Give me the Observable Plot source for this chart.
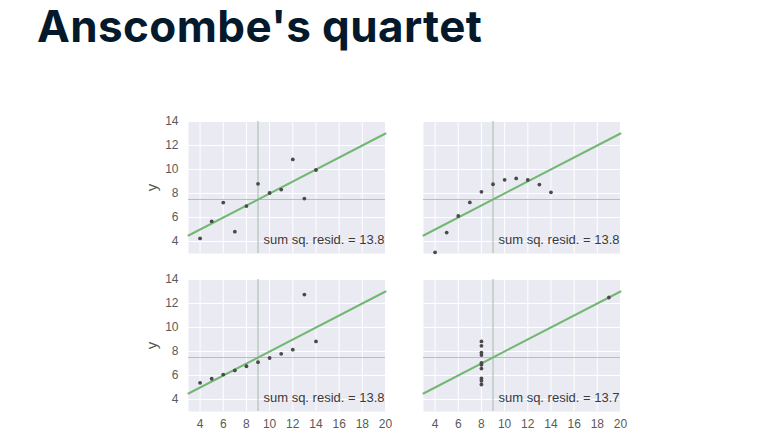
<!DOCTYPE html>
<html>
<head>
<meta charset="utf-8">
<script src="https://cdn.jsdelivr.net/npm/d3@7"></script>
<script src="https://cdn.jsdelivr.net/npm/@observablehq/plot@0.6"></script>
<style>
  html, body { margin: 0; padding: 0; background: #fff; width: 768px; height: 432px; overflow: hidden; }
  #wrap { position: relative; width: 768px; height: 432px; }
  #title { position: absolute; left: 37px; top: 2px; font-family: Inter, "Noto Sans", sans-serif; font-weight: 700; font-size: 44px; line-height: 1.1; color: #05192d; letter-spacing: 0.4px; white-space: nowrap; }
  #chart { position: absolute; left: 0; top: 90px; }
</style>
</head>
<body>
<div id="wrap">
  <div id="title">Anscombe's quartet</div>
  <div id="chart"></div>
</div>
<script>
// Anscombe's quartet data
const xI   = [10, 8, 13, 9, 11, 14, 6, 4, 12, 7, 5];
const yI   = [8.04, 6.95, 7.58, 8.81, 8.33, 9.96, 7.24, 4.26, 10.84, 4.82, 5.68];
const xII  = [10, 8, 13, 9, 11, 14, 6, 4, 12, 7, 5];
const yII  = [9.14, 8.14, 8.74, 8.77, 9.26, 8.10, 6.13, 3.10, 9.13, 7.26, 4.74];
const xIII = [10, 8, 13, 9, 11, 14, 6, 4, 12, 7, 5];
const yIII = [7.46, 6.77, 12.74, 7.11, 7.81, 8.84, 6.08, 5.39, 8.15, 6.42, 5.73];
const xIV  = [8, 8, 8, 8, 8, 8, 8, 19, 8, 8, 8];
const yIV  = [6.58, 5.76, 7.71, 8.84, 8.47, 7.04, 5.25, 12.50, 5.56, 7.91, 6.89];

const panelCol = ["L", "R", "L", "R"];
const panelRow = ["T", "T", "B", "B"];
const xMeans = [9, 9, 9, 9];
const yMeans = [7.5, 7.5, 7.5, 7.5];
const intercepts = [3.0, 3.0, 3.0, 3.0];
const slopes = [0.5, 0.5, 0.5, 0.5];
const residLabels = ["13.8", "13.8", "13.8", "13.7"];
const lineXExtent = [3, 20];
const xTicks = [4, 6, 8, 10, 12, 14, 16, 18, 20];
const yTicks = [4, 6, 8, 10, 12, 14];

const xs = [xI, xII, xIII, xIV];
const ys = [yI, yII, yIII, yIV];

const points = [];
xs.forEach((xa, i) => xa.forEach((x, j) => points.push({x, y: ys[i][j], fx: panelCol[i], fy: panelRow[i]})));

const panels = panelCol.map((c, i) => ({fx: c, fy: panelRow[i], mx: xMeans[i], my: yMeans[i], r: residLabels[i]}));

const regLines = [];
panelCol.forEach((c, i) => lineXExtent.forEach(x => regLines.push({x, y: intercepts[i] + slopes[i] * x, fx: c, fy: panelRow[i], k: i})));

const yLabels = [{fx: "L", fy: "T"}, {fx: "L", fy: "B"}];

const plot = Plot.plot({
  width: 768,
  height: 342,
  marginLeft: 188,
  marginRight: 148,
  marginTop: 30.5,
  marginBottom: 21,
  style: { fontFamily: "'Liberation Sans', Arial, sans-serif", fontSize: "12px", color: "#5a5a5a", background: "transparent" },
  fx: { domain: ["L", "R"], axis: null, paddingInner: 0.162, paddingOuter: 0 },
  fy: { domain: ["T", "B"], axis: null, paddingInner: 0.167, paddingOuter: 0 },
  x: { domain: [3, 20], ticks: xTicks, tickSize: 0, tickPadding: 8, label: null },
  y: { domain: [3, 14], ticks: yTicks, tickSize: 0, tickPadding: 10, label: null },
  marks: [
    Plot.frame({ fill: "#eaeaf2", stroke: null }),
    Plot.gridX(xTicks, { stroke: "#fff", strokeOpacity: 1, strokeWidth: 1 }),
    Plot.gridY(yTicks, { stroke: "#fff", strokeOpacity: 1, strokeWidth: 1 }),
    Plot.ruleX(panels, { x: "mx", fx: "fx", fy: "fy", stroke: "#b3c2b5", strokeWidth: 1.2 }),
    Plot.ruleY(panels, { y: "my", fx: "fx", fy: "fy", stroke: "#b3c2b5", strokeWidth: 1.2 }),
    Plot.line(regLines, { x: "x", y: "y", z: "k", fx: "fx", fy: "fy", stroke: "#72b872", strokeWidth: 2 }),
    Plot.dot(points, { x: "x", y: "y", fx: "fx", fy: "fy", r: 1.9, fill: "#4a4a4a", stroke: null }),
    Plot.text(panels, { fx: "fx", fy: "fy", text: d => "sum sq. resid. = " + d.r, frameAnchor: "bottom-right", textAnchor: "end", lineAnchor: "middle", dx: -1, dy: -14, fill: "#3a3a3a", fontSize: 13 }),
    Plot.text(yLabels, { fx: "fx", fy: "fy", text: () => "y", frameAnchor: "left", textAnchor: "middle", lineAnchor: "middle", rotate: -90, dx: -36, fill: "#555", fontSize: 15 })
  ]
});
document.getElementById("chart").appendChild(plot);
</script>
</body>
</html>
